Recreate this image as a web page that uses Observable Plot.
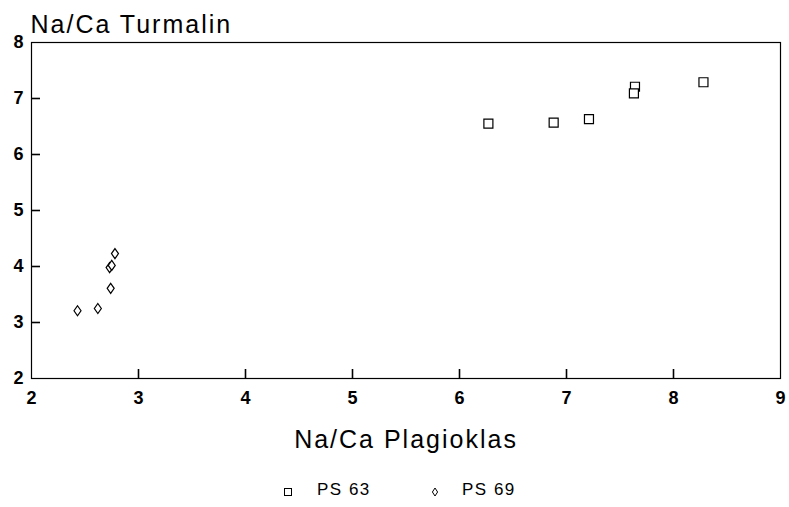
<!DOCTYPE html>
<html><head><meta charset="utf-8">
<script src="https://cdn.jsdelivr.net/npm/d3@7"></script>
<script src="https://cdn.jsdelivr.net/npm/@observablehq/plot@0.6"></script>
<style>
body{margin:0;background:#fff;font-family:"Liberation Sans",Arial,sans-serif;color:#000;}
#chart svg{display:block;}
#legend{position:relative;width:789px;height:37px;font-size:17px;letter-spacing:1.5px;}
#legend .item{position:absolute;top:10px;line-height:20px;}
#legend svg{position:absolute;overflow:visible;}
</style></head><body>
<div id="chart"></div>
<div id="legend"></div>
<script>
const seriesNames = ["PS 63", "PS 69"];
const ps63Plagioklas = [6.27, 6.88, 7.21, 7.64, 7.63, 8.28];
const ps63Turmalin   = [6.55, 6.57, 6.63, 7.21, 7.09, 7.29];
const ps69Plagioklas = [2.43, 2.62, 2.74, 2.73, 2.75, 2.78];
const ps69Turmalin   = [3.21, 3.25, 3.61, 3.98, 4.02, 4.23];
const xTicks = [2, 3, 4, 5, 6, 7, 8, 9];
const yTicks = [2, 3, 4, 5, 6, 7, 8];
const titleText = "Na/Ca Turmalin";
const xLabelText = "Na/Ca Plagioklas";

const points = [
  ...ps63Plagioklas.map((x, i) => ({x, y: ps63Turmalin[i], s: seriesNames[0]})),
  ...ps69Plagioklas.map((x, i) => ({x, y: ps69Turmalin[i], s: seriesNames[1]}))
];

const squareSym = {draw(ctx) { ctx.rect(-4.5, -4.5, 9, 9); }};
const diamondSym = {draw(ctx) { ctx.moveTo(0, -5); ctx.lineTo(3.5, 0); ctx.lineTo(0, 5); ctx.lineTo(-3.5, 0); ctx.closePath(); }};

const W = 789, H = 470, mT = 42, mL = 31, mR = 9, mB = 92, tickLen = 9;
const innerW = W - mL - mR, innerH = H - mT - mB;
const xDom = [xTicks[0], xTicks[xTicks.length - 1]];
const yDom = [yTicks[0], yTicks[yTicks.length - 1]];
const xTickUnits = tickLen * (xDom[1] - xDom[0]) / innerW;
const yTickUnits = tickLen * (yDom[1] - yDom[0]) / innerH;

const chart = Plot.plot({
  width: W,
  height: H,
  marginTop: mT,
  marginLeft: mL,
  marginRight: mR,
  marginBottom: mB,
  style: {fontFamily: "'Liberation Sans', Arial, sans-serif", fontSize: "18px", color: "black", background: "white"},
  x: {domain: xDom},
  y: {domain: yDom},
  symbol: {domain: seriesNames, range: [squareSym, diamondSym]},
  marks: [
    Plot.ruleX(xTicks.slice(1, -1), {x: d => d, y1: yDom[0], y2: yDom[0] + yTickUnits, stroke: "#000", strokeWidth: 1.6}),
    Plot.ruleY(yTicks.slice(1, -1), {y: d => d, x1: xDom[0], x2: xDom[0] + xTickUnits, stroke: "#000", strokeWidth: 1.6}),
    Plot.frame({stroke: "black", strokeWidth: 1.2, fill: "none"}),
    Plot.axisX(xTicks, {tickSize: 0, tickPadding: 13, fontWeight: "bold", tickFormat: d => String(d), label: null}),
    Plot.axisY(yTicks, {tickSize: 0, tickPadding: 8, fontWeight: "bold", tickFormat: d => String(d), label: null}),
    Plot.dot(points, {x: "x", y: "y", symbol: "s", r: 5, stroke: "black", strokeWidth: 1.2, fill: "white"}),
    Plot.text([titleText], {text: d => d, frameAnchor: "top-left", textAnchor: "start", lineAnchor: "bottom", dy: -10, dx: -1, fontSize: 25}),
    Plot.text([xLabelText], {text: d => d, frameAnchor: "bottom", textAnchor: "middle", lineAnchor: "bottom", dy: 69, fontSize: 25})
  ]
});
d3.select(chart).selectAll("text").filter(function() { return this.textContent === titleText || this.textContent === xLabelText; }).attr("letter-spacing", "2px");
document.getElementById("chart").appendChild(chart);

// legend
const legend = d3.select("#legend");
const legendItems = [
  {name: seriesNames[0], sx: 288, tx: 317, sym: squareSym},
  {name: seriesNames[1], sx: 435, tx: 462, sym: diamondSym}
];
for (const it of legendItems) {
  const svg = legend.append("svg").attr("width", 1).attr("height", 1).style("left", it.sx + "px").style("top", "22px");
  if (it.sym === squareSym) svg.append("rect").attr("x", -3.5).attr("y", -3.5).attr("width", 7).attr("height", 7).attr("fill", "none").attr("stroke", "black").attr("stroke-width", 1);
  else svg.append("path").attr("d", "M0,-4L2.6,0L0,4L-2.6,0Z").attr("fill", "none").attr("stroke", "black").attr("stroke-width", 1);
  legend.append("div").attr("class", "item").style("left", it.tx + "px").text(it.name);
}
</script>
</body></html>
